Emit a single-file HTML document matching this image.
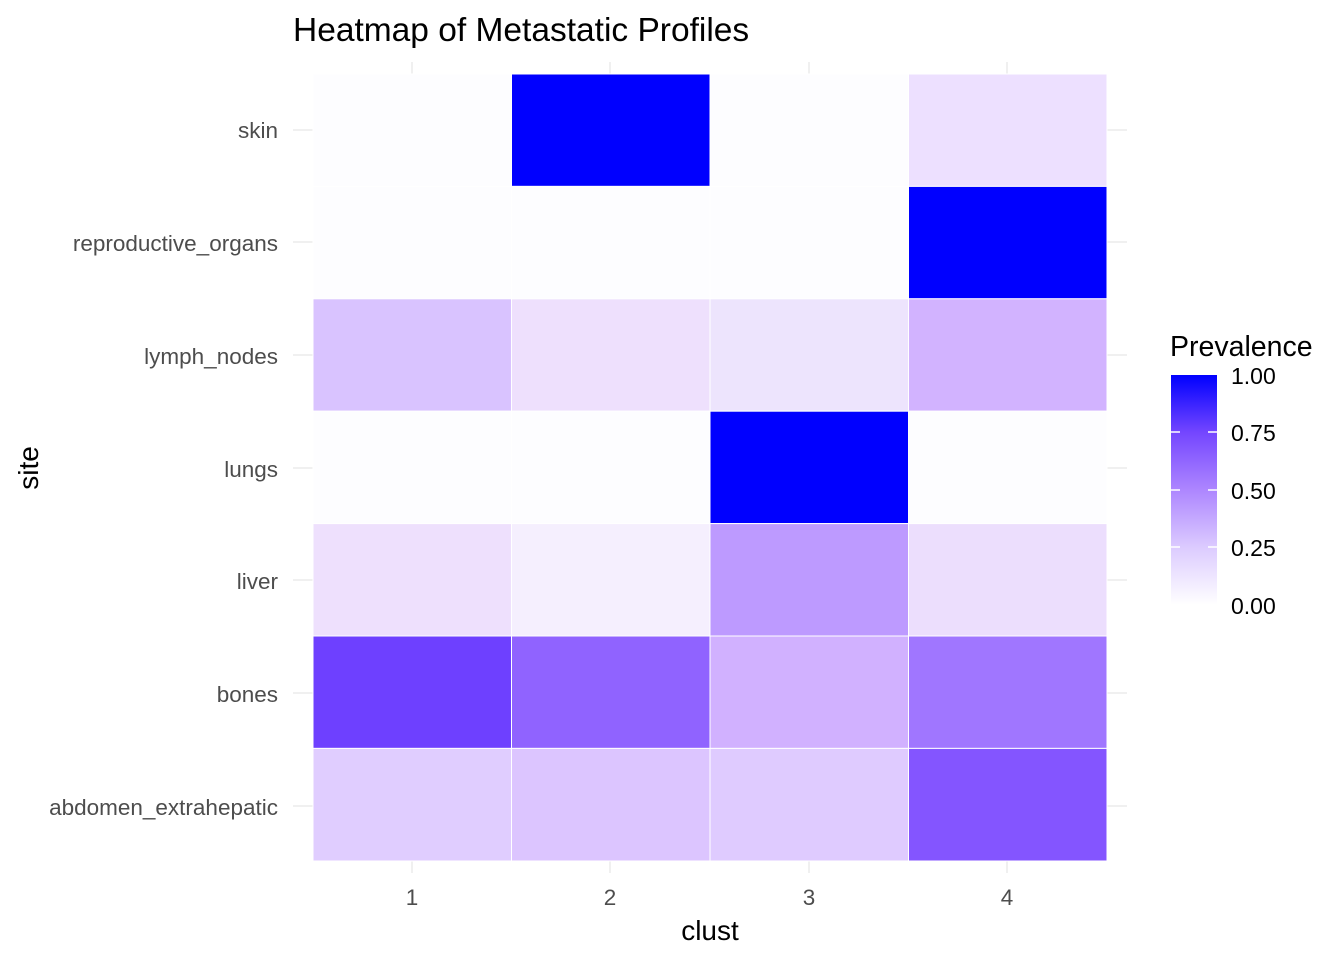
<!DOCTYPE html>
<html><head><style>body{margin:0;background:#fff}</style></head><body>
<svg width="1344" height="960" xmlns="http://www.w3.org/2000/svg" font-family="Liberation Sans, sans-serif">
<defs><linearGradient id="g" x1="0" y1="1" x2="0" y2="0">
<stop offset="0" stop-color="#ffffff"/><stop offset="0.25" stop-color="#dccbff"/><stop offset="0.5" stop-color="#ad86ff"/><stop offset="0.75" stop-color="#7446ff"/><stop offset="1" stop-color="#0000ff"/></linearGradient></defs>
<g stroke="#ebebeb" stroke-width="1.5">
<line x1="412" y1="62" x2="412" y2="873"/><line x1="610" y1="62" x2="610" y2="873"/><line x1="809" y1="62" x2="809" y2="873"/><line x1="1007" y1="62" x2="1007" y2="873"/>
<line x1="293" y1="130" x2="1127" y2="130"/><line x1="293" y1="242" x2="1127" y2="242"/><line x1="293" y1="355" x2="1127" y2="355"/><line x1="293" y1="468" x2="1127" y2="468"/><line x1="293" y1="580" x2="1127" y2="580"/><line x1="293" y1="693" x2="1127" y2="693"/><line x1="293" y1="806" x2="1127" y2="806"/>
</g>
<g stroke="#fff" stroke-width="1">
<rect x="313" y="74" width="198.5" height="112.4" fill="#fdfdff"/><rect x="511.5" y="74" width="198.5" height="112.4" fill="#0000ff"/><rect x="710" y="74" width="198.5" height="112.4" fill="#fdfdff"/><rect x="908.5" y="74" width="198.5" height="112.4" fill="#ede0ff"/>
<rect x="313" y="186.4" width="198.5" height="112.4" fill="#fdfdff"/><rect x="511.5" y="186.4" width="198.5" height="112.4" fill="#fdfdff"/><rect x="710" y="186.4" width="198.5" height="112.4" fill="#fdfdff"/><rect x="908.5" y="186.4" width="198.5" height="112.4" fill="#0000ff"/>
<rect x="313" y="298.8" width="198.5" height="112.4" fill="#d9c3ff"/><rect x="511.5" y="298.8" width="198.5" height="112.4" fill="#eee0fd"/><rect x="710" y="298.8" width="198.5" height="112.4" fill="#ede4fd"/><rect x="908.5" y="298.8" width="198.5" height="112.4" fill="#d2b3ff"/>
<rect x="313" y="411.2" width="198.5" height="112.4" fill="#fdfdff"/><rect x="511.5" y="411.2" width="198.5" height="112.4" fill="#fdfdff"/><rect x="710" y="411.2" width="198.5" height="112.4" fill="#0000ff"/><rect x="908.5" y="411.2" width="198.5" height="112.4" fill="#fdfdff"/>
<rect x="313" y="523.6" width="198.5" height="112.4" fill="#eee0fd"/><rect x="511.5" y="523.6" width="198.5" height="112.4" fill="#f5effe"/><rect x="710" y="523.6" width="198.5" height="112.4" fill="#bd9aff"/><rect x="908.5" y="523.6" width="198.5" height="112.4" fill="#ecdefd"/>
<rect x="313" y="636" width="198.5" height="112.4" fill="#6e40ff"/><rect x="511.5" y="636" width="198.5" height="112.4" fill="#9063ff"/><rect x="710" y="636" width="198.5" height="112.4" fill="#d1b1ff"/><rect x="908.5" y="636" width="198.5" height="112.4" fill="#a076ff"/>
<rect x="313" y="748.4" width="198.5" height="112.6" fill="#e0cdff"/><rect x="511.5" y="748.4" width="198.5" height="112.6" fill="#dcc5ff"/><rect x="710" y="748.4" width="198.5" height="112.6" fill="#dfcbff"/><rect x="908.5" y="748.4" width="198.5" height="112.6" fill="#8455ff"/>
</g>
<text x="293" y="41" font-size="33.5" fill="#000">Heatmap of Metastatic Profiles</text>
<g font-size="22.5" fill="#4d4d4d" text-anchor="end">
<text x="278" y="138">skin</text><text x="278" y="251">reproductive_organs</text><text x="278" y="364">lymph_nodes</text><text x="278" y="477">lungs</text><text x="278" y="589">liver</text><text x="278" y="702">bones</text><text x="278" y="815">abdomen_extrahepatic</text>
</g>
<g font-size="22.5" fill="#4d4d4d" text-anchor="middle">
<text x="412" y="905">1</text><text x="610" y="905">2</text><text x="809" y="905">3</text><text x="1007" y="905">4</text>
</g>
<text x="710" y="940" font-size="28" text-anchor="middle">clust</text>
<text transform="translate(38,468) rotate(-90)" font-size="28" text-anchor="middle">site</text>
<text x="1170" y="356" font-size="28.5">Prevalence</text>
<rect x="1171" y="375" width="46" height="230" fill="url(#g)"/>
<g stroke="#fff" stroke-width="1.5">
<line x1="1171" y1="432" x2="1180" y2="432"/><line x1="1208" y1="432" x2="1217" y2="432"/>
<line x1="1171" y1="490" x2="1180" y2="490"/><line x1="1208" y1="490" x2="1217" y2="490"/>
<line x1="1171" y1="547" x2="1180" y2="547"/><line x1="1208" y1="547" x2="1217" y2="547"/>
</g>
<g font-size="23" fill="#000">
<text x="1231" y="384">1.00</text><text x="1231" y="441">0.75</text><text x="1231" y="499">0.50</text><text x="1231" y="556">0.25</text><text x="1231" y="614">0.00</text>
</g>
</svg>
</body></html>
